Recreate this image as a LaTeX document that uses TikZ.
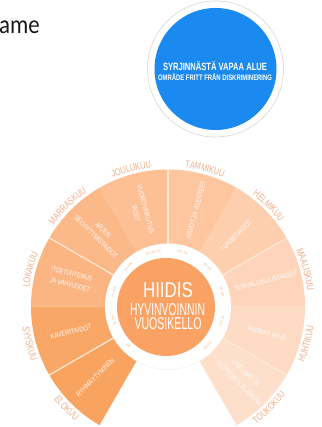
\documentclass[tikz,border=0pt]{standalone}
\usepackage{fontspec}
\usepackage{graphicx}
\usetikzlibrary{decorations.text,calc}
\newfontfamily\cond[FakeStretch=0.74]{Liberation Sans}
\newfontfamily\carl{Carlito}
\setsansfont{Liberation Sans}
\definecolor{monthc}{HTML}{F1AE89}
\definecolor{linec}{HTML}{FFEAD8}
\definecolor{blueb}{HTML}{1A8AF0}
\definecolor{orangec}{HTML}{FAA264}
\definecolor{ringtx}{HTML}{F3BC94}
\definecolor{badgeline}{HTML}{DDD5CE}
\newcommand{\fit}[3]{\resizebox{#1pt}{#2pt}{\sffamily #3}}
\tikzset{
  seclabel/.style={inner sep=0pt,text=white,opacity=.92},
  centrelabel/.style={inner sep=0pt,text=white},
  ringlabel/.style={inner sep=0pt,text=ringtx,font=\sffamily\fontsize{3.6}{4}\selectfont,align=center},
  divider/.style={draw=linec,line width=1.2pt},
  badge/.style={inner sep=0pt,text=white,font=\bfseries},
}
\begin{document}
\begin{tikzpicture}[x=1pt,y=1pt]
\useasboundingbox (0,0) rectangle (321,427);
\fill[white] (0,0) rectangle (321,427);
% cropped caption at top left
\begin{scope}
\clip (0,380) rectangle (60,427);
\node (caption) [anchor=base east,inner sep=0pt,font=\carl\fontsize{26}{28}\selectfont,text=black!90] at (40,393) {\scalebox{.88}[1]{ame}};
\end{scope}
% badge
\node (badgering) [circle,draw=badgeline,line width=.6pt,fill=white,minimum size=136pt,inner sep=0pt] at (215.5,358) {};
\node (badgedisc) [circle,fill=blueb,minimum size=122pt,inner sep=0pt] at (215.5,358) {};
\node (badgeone) [badge] at (215,361) {\fit{104}{9}{\bfseries SYRJINNÄSTÄ VAPAA ALUE}};
\node (badgetwo) [badge] at (215,350) {\fit{114}{7}{\bfseries OMRÅDE FRITT FRÅN DISKRIMINERING}};
% wheel
\coordinate (c) at (168,120.5);
\foreach \a/\b/\col in {
  -60/-30/FDDFCB,-30/0/FEDBC4,0/30/FED5BA,30/60/FECFAE,60/90/FDC69F,
  90/120/FDC095,120/150/FBB98A,150/180/FBB583,180/210/F9A767,210/240/F9A360}{
  \definecolor{tmpc}{HTML}{\col}
  \fill[tmpc] (c) -- ($(c)+(\a:137)$) arc[start angle=\a,end angle=\b,radius=137] -- cycle;
}
\foreach \a in {-30,30,90,150,210}{
  \draw[divider] ($(c)+(\a:60)$) -- ($(c)+(\a:137)$);
}
% white ring with faint lower edge
\fill[white] (c) circle[radius=63];
\draw[black!6,line width=.5pt] ($(c)+(240:63)$) arc[start angle=240,end angle=300,radius=63];
\node (hub) [circle,fill=orangec,minimum size=98pt,inner sep=0pt] at (166,120) {};
\node (hubone) [centrelabel] at (168,137) {\fit{50}{15}{HIIDIS}};
\node (hubtwo) [centrelabel] at (167.5,117.5) {\fit{75}{12}{HYVINVOINNIN}};
\node (hubthree) [centrelabel] at (168,103) {\fit{67}{12}{VUOSIKELLO}};
% sector labels
\node (j1) [seclabel,rotate=-75] at (146,217) {\fit{52}{5}{VUOROVAIKUTUS-}};
\node (j2) [seclabel,rotate=-75] at (136,214) {\fit{17}{5}{TAIDOT}};
\node (m1) [seclabel,rotate=-45] at (103,197) {\fit{19}{5}{ARJEN}};
\node (m2) [seclabel,rotate=-45] at (96,190) {\fit{58}{5}{SELVIYTYMISTAIDOT}};
\node (l1) [seclabel,rotate=-15] at (72,153) {\fit{42}{5}{ITSETUNTEMUS}};
\node (l2) [seclabel,rotate=-15] at (70,142) {\fit{41}{5}{JA VAHVUUDET}};
\node (s1) [seclabel,rotate=15] at (71,95) {\fit{42}{5}{KAVERITAIDOT}};
\node (e1) [seclabel,rotate=45] at (95,50) {\fit{51}{6}{RYHMÄYTYMINEN}};
\node (t1) [seclabel,rotate=75] at (196,217) {\fit{60}{5}{ARVOT JA ASENTEET}};
\node (h1) [seclabel,rotate=45] at (236,191) {\fit{41}{5}{TUNNETAIDOT}};
\node (a1) [seclabel,rotate=15] at (266,146) {\fit{65}{5}{TURVALLISUUSTAIDOT}};
\node (u1) [seclabel,rotate=-15] at (267,94) {\fit{39}{6}{HUOMAA HYVÄ}};
\node (o1) [seclabel,rotate=-45] at (246,54) {\fit{36}{5}{UNELMAT JA}};
\node (o2) [seclabel,rotate=-45] at (239,45) {\fit{62}{6}{LUOTTAMUS ELÄMÄÄN}};
% months, upper half (clockwise)
\foreach \m/\ang in {JOULUKUU/105,TAMMIKUU/75,HELMIKUU/45,MAALISKUU/15,LOKAKUU/165,MARRASKUU/135}{
  \path[decorate,decoration={text along path,text align=center,
    text={|\color{monthc}\cond\fontsize{10}{10}\selectfont|\m}}]
    ($(c)+(\ang+14:140)$) arc[start angle=\ang+14,end angle=\ang-14,radius=140];
}
% months, lower half (counter-clockwise)
\foreach \m/\ang in {HUHTIKUU/-15,TOUKOKUU/-45,ELOKUU/225,SYYSKUU/195}{
  \path[decorate,decoration={text along path,text align=center,
    text={|\color{monthc}\cond\fontsize{10}{10}\selectfont|\m}}]
    ($(c)+(\ang-14:147)$) arc[start angle=\ang-14,end angle=\ang+14,radius=147];
}
% small texts in the ring
\node (r1) [ringlabel,rotate=15] at ($(c)+(105:56)$) {NI-MA LK};
\node (r2) [ringlabel,rotate=-15] at ($(c)+(75:56)$) {PE-TA};
\node (r3) [ringlabel,rotate=-45] at ($(c)+(45:56)$) {PE-PA};
\node (r4) [ringlabel,rotate=-75] at ($(c)+(15:56)$) {NI-MA};
\node (r5) [ringlabel,rotate=75] at ($(c)+(-15:56)$) {PE-TA};
\node (r6) [ringlabel,rotate=45] at ($(c)+(-45:56)$) {PE-PA};
\node (r7) [ringlabel,rotate=45] at ($(c)+(135:56)$) {NI-MA};
\node (r8) [ringlabel,rotate=75] at ($(c)+(165:56)$) {NI-MA};
\node (r9) [ringlabel,rotate=-75] at ($(c)+(195:56)$) {PE-TA};
\node (r10) [ringlabel,rotate=-45] at ($(c)+(225:56)$) {PE};
\end{tikzpicture}
\end{document}
